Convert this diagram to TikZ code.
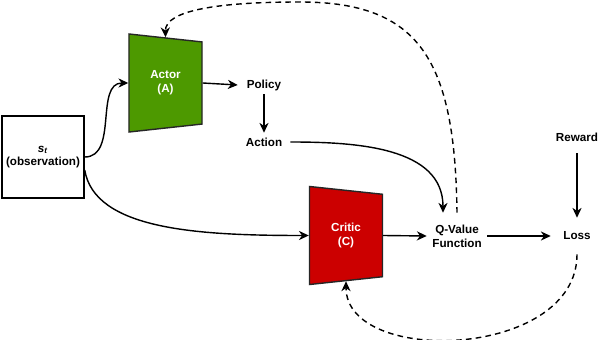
\documentclass[tikz,border=0pt]{standalone}
\usepackage{fontspec}
\setmainfont{Liberation Sans}
\definecolor{actorgreen}{HTML}{4D9900}
\definecolor{criticred}{HTML}{CC0000}
\usetikzlibrary{arrows.meta,shapes.geometric,calc}
\tikzset{
  netbox/.style={trapezium,shape border rotate=270,trapezium left angle=75.4,trapezium right angle=75.4,
    trapezium stretches body,minimum width=2.45cm,minimum height=1.825cm,draw=black!85,line width=1pt,
    inner sep=0pt,font=\bfseries\fontsize{8.3}{9.8}\selectfont\color{white},align=center},
  obs_box/.style={draw=black,line width=1pt,minimum width=2.05cm,minimum height=2.05cm,
    inner sep=0pt,font=\bfseries\fontsize{8.3}{9.8}\selectfont,align=center},
  lbl/.style={minimum width=1.3cm,minimum height=0.45cm,inner sep=0pt,
    font=\bfseries\fontsize{8.3}{9.8}\selectfont,align=center},
  arr/.style={-{Stealth[length=7pt,width=6.5pt,inset=2.2pt]},line width=1pt},
  arr_d/.style={arr,dash pattern=on 4pt off 3pt},
}

\begin{document}
\begin{tikzpicture}[x=0.025cm,y=-0.025cm]
    \useasboundingbox (0,0) rectangle (602,340);

    \node[obs_box] (obs) at (43,157) {\textit{s}\textsubscript{\textit{t}}\\(observation)};
    \node[netbox,fill=actorgreen] (actor) at (165.5,83) {Actor\\(A)};
    \node[netbox,fill=criticred] (critic) at (346,235.5) {Critic\\(C)};
    \node[lbl] (policy) at (264,85) {Policy};
    \node[lbl] (action) at (264,142) {Action};
    \node[lbl,minimum width=1.5cm,minimum height=1.15cm] (qval) at (457,236) {Q-Value\\Function};
    \node[lbl,minimum height=0.9cm] (loss) at (577,236) {Loss};
    \node[lbl,minimum height=0.8cm] (reward) at (577,137) {Reward};

    \draw[arr] (obs.east) to[out=0,in=180] (actor.west);
    \draw[arr] ($(obs.east)+(0,13)$) .. controls +(10,60) and +(-110,0) .. (critic.west);
    \draw[arr] (actor.east) -- (policy.west);
    \draw[arr] (policy.south) -- (action.north);
    \draw[arr] (action.east) to[out=0,in=90] ($(qval.north)+(-14,0)$);
    \draw[arr] (critic.east) -- (qval.west);
    \draw[arr] (qval.east) -- (loss.west);
    \draw[arr] (reward.south) -- (loss.north);

    % feedback
    \draw[arr_d] (qval.north) .. controls (455,60) and (420,2) .. (300,2)
        .. controls (220,2) and (165,10) .. (actor.north);
    \draw[arr_d] (loss.south) .. controls +(0,105) and +(0,85) .. (critic.south);
  \end{tikzpicture}
\end{document}
